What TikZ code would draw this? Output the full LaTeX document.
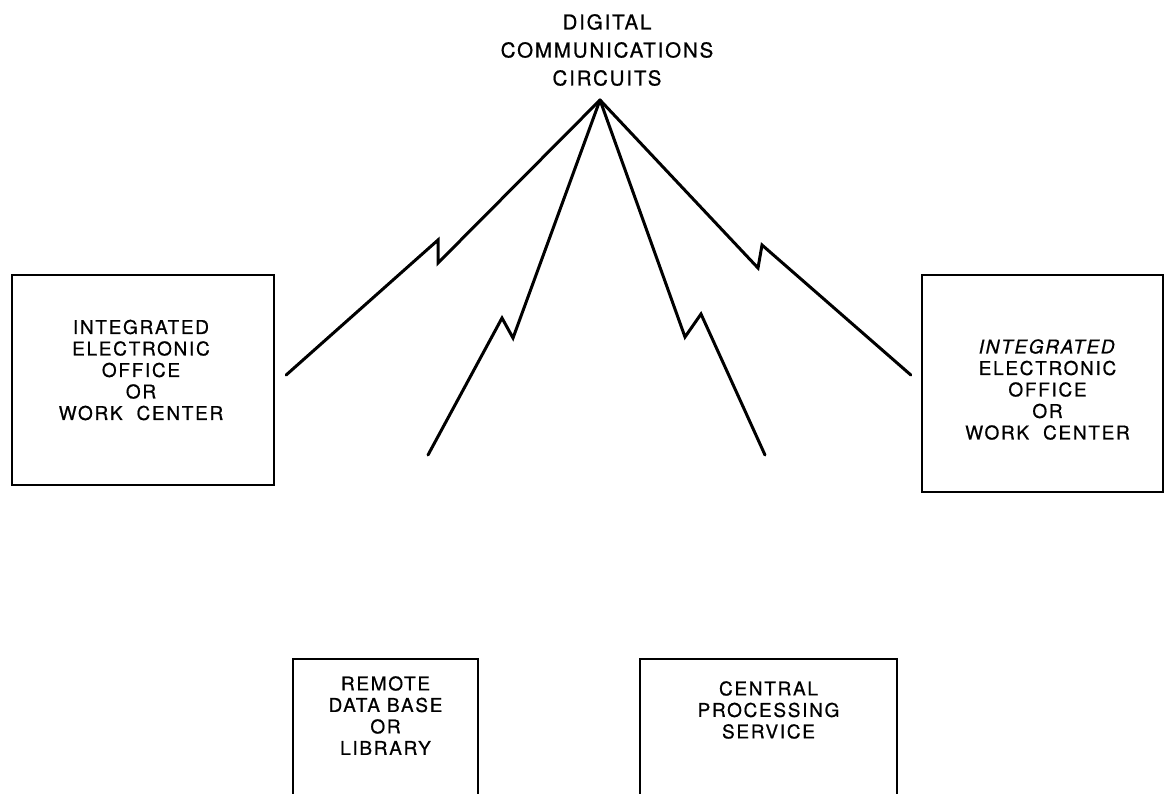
\documentclass[tikz,border=0pt]{standalone}
\usepackage{fontspec}
\setmainfont{TeX Gyre Heros}[LetterSpace=9, FakeBold=0.7]
\usetikzlibrary{positioning}

\begin{document}
\begin{tikzpicture}[
        x=1pt, y=-1pt,
        box/.style={draw, line width=2.3pt, inner sep=0pt},
        lbl/.style={align=center, font=\fontsize{19}{21.5}\selectfont, inner sep=0pt},
        toplbl/.style={align=center, font=\fontsize{20.5}{28}\selectfont, inner sep=0pt},
        link/.style={line width=3pt, line join=miter, line cap=round}
    ]
        \useasboundingbox (0,0) rectangle (1174,793);

        % ========================================================
        % BOXES
        % ========================================================
        \node[box, minimum width=262pt, minimum height=210pt] (ieoL) at (143,380) {};
        \node[box, minimum width=241pt, minimum height=217pt] (ieoR) at (1042.5,383.5) {};
        \node[box, minimum width=185pt, minimum height=200pt, anchor=north] (rdb) at (385.5,658) {};
        \node[box, minimum width=257pt, minimum height=200pt, anchor=north] (cps) at (768.5,658) {};

        % ========================================================
        % LABELS
        % ========================================================
        \node[toplbl] (dcc) at (607,50) {DIGITAL\\COMMUNICATIONS\\CIRCUITS};

        \node[lbl] (ieoLtxt) at ([xshift=-2pt, yshift=10pt]ieoL.center) {INTEGRATED\\ELECTRONIC\\OFFICE\\OR\\WORK\ \ CENTER};
        \node[lbl] (ieoRtxt) at ([xshift=5pt, yshift=-6pt]ieoR.center) {\textit{INTEGRATED}\\ELECTRONIC\\OFFICE\\OR\\WORK\ \ CENTER};
        \node[lbl, anchor=north] (rdbtxt) at ([yshift=-18pt]rdb.north) {REMOTE\\DATA BASE\\OR\\LIBRARY};
        \node[lbl, anchor=north] (cpstxt) at ([yshift=-23pt]cps.north) {CENTRAL\\PROCESSING\\SERVICE};

        % ========================================================
        % CIRCUITS
        % ========================================================
        \coordinate (apex) at (600,100);
        \coordinate (endL) at ([xshift=11pt, yshift=5pt]ieoL.east);
        \coordinate (endR) at ([xshift=-10pt, yshift=8.5pt]ieoR.west);
        \coordinate (endRdb) at (428,455);
        \coordinate (endCps) at (765,455);

        \draw[link] (endL) -- (438,240) -- (438,263) -- (apex);
        \draw[link] (endRdb) -- (502,318) -- (513,338) -- (apex);
        \draw[link] (apex) -- (685,337) -- (701,314) -- (endCps);
        \draw[link] (apex) -- (758,268) -- (762,245) -- (endR);

    \end{tikzpicture}
\end{document}
